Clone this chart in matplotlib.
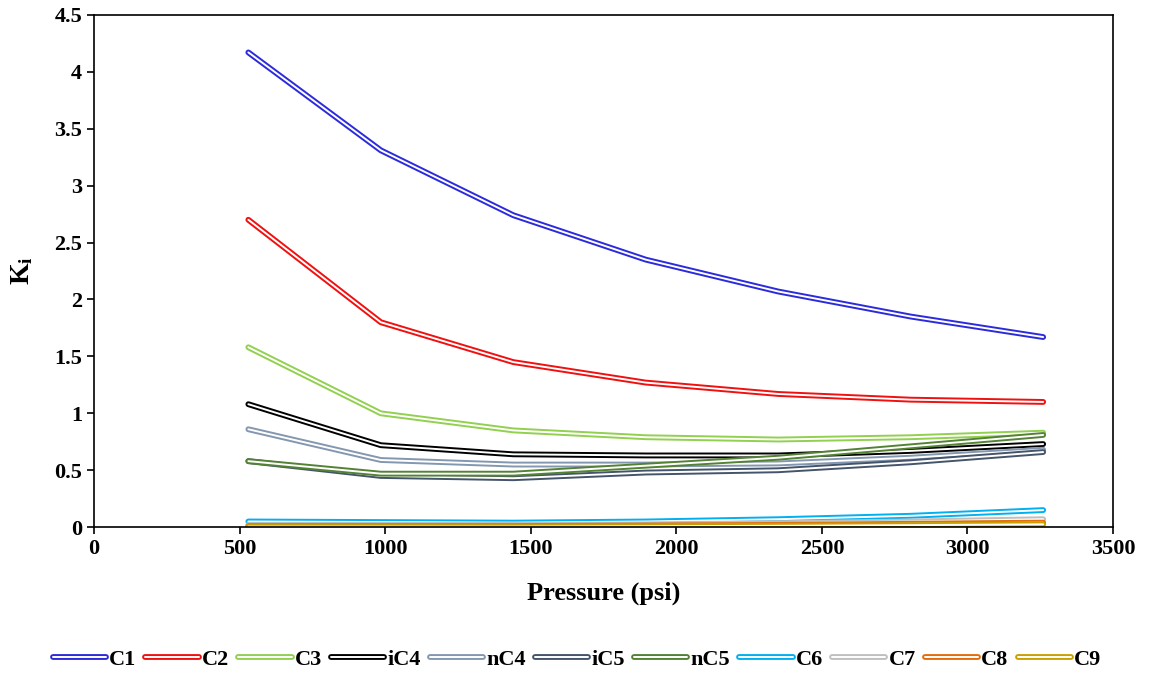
import matplotlib
matplotlib.use("Agg")
import matplotlib.pyplot as plt
import matplotlib.patheffects as pe

plt.rcParams['font.family'] = ['Liberation Serif', 'DejaVu Serif']
plt.rcParams['font.weight'] = 'bold'
plt.rcParams['mathtext.fontset'] = 'custom'
plt.rcParams['mathtext.bf'] = 'Liberation Serif:bold'
plt.rcParams['mathtext.rm'] = 'Liberation Serif:bold'

pressure = [530, 985, 1440, 1895, 2350, 2805, 3260]

components = ['C1', 'C2', 'C3', 'iC4', 'nC4', 'iC5', 'nC5', 'C6', 'C7', 'C8', 'C9']
colors = ['#2b2bdc', '#f01010', '#92d050', '#000000', '#8497b0', '#44546a',
          '#548235', '#00b0f0', '#bfbfbf', '#e46c0a', '#c9a000']

k_c1 = [4.17, 3.31, 2.74, 2.35, 2.07, 1.85, 1.67]
k_c2 = [2.70, 1.80, 1.45, 1.27, 1.17, 1.12, 1.10]
k_c3 = [1.58, 1.00, 0.85, 0.79, 0.77, 0.79, 0.83]
k_ic4 = [1.08, 0.72, 0.64, 0.63, 0.63, 0.67, 0.73]
k_nc4 = [0.86, 0.59, 0.55, 0.55, 0.56, 0.61, 0.68]
k_ic5 = [0.58, 0.45, 0.43, 0.48, 0.50, 0.57, 0.66]
k_nc5 = [0.58, 0.47, 0.47, 0.54, 0.61, 0.71, 0.81]
k_c6 = [0.05, 0.045, 0.04, 0.05, 0.07, 0.10, 0.15]
k_c7 = [0.02, 0.02, 0.02, 0.025, 0.035, 0.05, 0.07]
k_c8 = [0.01, 0.01, 0.01, 0.015, 0.02, 0.03, 0.04]
k_c9 = [0.005, 0.005, 0.005, 0.008, 0.012, 0.018, 0.025]

k_values = [k_c1, k_c2, k_c3, k_ic4, k_nc4, k_ic5, k_nc5, k_c6, k_c7, k_c8, k_c9]

fig = plt.figure(figsize=(11.54, 6.75), dpi=100)
ax = fig.add_axes([0.0815, 0.219, 0.883, 0.759])

for name, c, k in zip(components, colors, k_values):
    # double line look: white core with a coloured outline
    ax.plot(pressure, k, color='white', lw=1.4, label=name,
            solid_capstyle='round', solid_joinstyle='round',
            path_effects=[pe.Stroke(linewidth=4.2, foreground=c, capstyle='round', joinstyle='round'),
                          pe.Normal()])

ax.set_xlim(0, 3500)
ax.set_ylim(0, 4.5)
ax.set_xticks(range(0, 3501, 500))
ax.set_yticks([0, 0.5, 1, 1.5, 2, 2.5, 3, 3.5, 4, 4.5])
ax.set_yticklabels(['0', '0.5', '1', '1.5', '2', '2.5', '3', '3.5', '4', '4.5'])
ax.tick_params(direction='out', length=5, width=1.2, labelsize=16, top=False, right=False)
for lab in ax.get_xticklabels() + ax.get_yticklabels():
    lab.set_fontweight('bold')
for s in ax.spines.values():
    s.set_linewidth(1.2)

ax.set_xlabel('Pressure (psi)', fontsize=19, fontweight='bold', labelpad=16)
ax.set_ylabel(r'$\mathbf{K_i}$', fontsize=20, labelpad=14)

leg = fig.legend(loc='lower center', bbox_to_anchor=(0.5, -0.022), ncol=11, frameon=False,
                 handlelength=2.4, handletextpad=0.15, columnspacing=0.4,
                 prop={'weight': 'bold', 'size': 16})

fig.savefig('out.png', dpi=100)
